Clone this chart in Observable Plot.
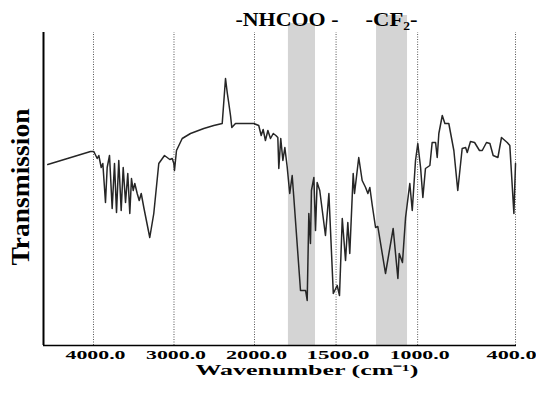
<!DOCTYPE html>
<html><head><meta charset="utf-8">
<script src="https://cdn.jsdelivr.net/npm/d3@7"></script>
<script src="https://cdn.jsdelivr.net/npm/@observablehq/plot@0.6"></script>
<style>body{margin:0;background:#fff}</style>
</head><body><div id="chart"></div>
<script>
const wavenumbers = [4568,4037,3996,3954,3934,3904,3884,3851,3830,3801,
  3768,3739,3714,3686,3656,3631,3602,3574,3549,3528,
  3507,3487,3457,3432,3407,3375,3301,3251,3189,3118,
  3052,3022,3002,2994,2969,2898,2795,2630,2506,2401,
  2360,2339,2319,2298,2282,2236,2009,1974,1959,1947,
  1933,1918,1902,1885,1869,1857,1851,1839,1826,1814,
  1800,1784,1769,1759,1718,1687,1677,1667,1657,1651,
  1636,1626,1616,1600,1565,1544,1517,1493,1479,1462,
  1442,1428,1416,1395,1387,1361,1340,1319,1305,1293,
  1278,1258,1244,1197,1150,1121,1113,1093,1074,1048,
  1033,1013,999,982,968,952,925,911,890,880,
  870,849,833,809,778,754,727,706,696,676,
  651,621,604,578,557,537,508,486,451,435,
  410,400];
const transmission = [181,194,194,187,190,178,182,143,178,190,
  137,182,133,185,135,178,143,172,132,167,
  155,162,152,145,152,138,108,132,182,190,
  186,187,182,175,195,207,212,217,220,222,
  267,253,242,230,218,222,222,220,210,216,
  205,215,207,212,210,208,177,207,185,198,
  179,152,170,148,55,55,45,132,102,155,
  168,115,163,155,110,152,52,60,50,127,
  85,123,92,172,152,188,165,158,152,158,
  140,118,119,72,117,67,92,83,128,162,
  135,185,202,178,148,177,180,203,203,188,
  212,230,222,222,195,155,197,198,193,204,
  203,195,195,203,202,190,188,208,203,200,
  132,182];
const xTicks = [4000,3000,2000,1500,1000,400];
const bandLabels = ["-NHCOO -", "-CF₂-"];
const bandFrom = [1792, 1252];
const bandTo = [1626, 1062];
const bandTop = [322, 330];
const labelWn = [1801, 1160];
const xDomain = [4621, 2000, 394];
const yDomain = [0, 313];
const yLabel = "Transmission";
const xLabel = "Wavenumber (cm⁻¹)";

const spectrum = wavenumbers.map((w, i) => ({w, t: transmission[i]}));
const bands = bandLabels.map((label, i) => ({label, x1: bandFrom[i], x2: bandTo[i], top: bandTop[i], xl: labelWn[i]}));
const fmt = d => d.toFixed(1);
const font = "Liberation Serif";
const txt = {fontFamily: font, fontWeight: "bold", fill: "#000"};

const plot = Plot.plot({
  width: 536, height: 394,
  marginLeft: 43, marginRight: 20, marginTop: 32, marginBottom: 49,
  style: {fontFamily: font, background: "#fff", color: "#000", overflow: "visible"},
  x: {type: "linear", domain: xDomain, range: [43, 254, 516]},
  y: {domain: yDomain, axis: null},
  marks: [
    Plot.rect(bands, {x1: "x1", x2: "x2", y1: 0, y2: "top", fill: "#d4d4d4"}),
    Plot.ruleX(xTicks, {y1: 0, y2: yDomain[1], stroke: "#555", strokeWidth: 1, strokeDasharray: "1,1.5"}),
    Plot.line(spectrum, {x: "w", y: "t", stroke: "#262626", strokeWidth: 1.5}),
    Plot.ruleX([xDomain[0]], {y1: 0, y2: yDomain[1], stroke: "#000", strokeWidth: 2}),
    Plot.ruleY([0], {x1: xDomain[0], x2: xDomain[2], stroke: "#000", strokeWidth: 1.6}),
    Plot.axisX(xTicks.slice(0, 5), {tickSize: 0, tickPadding: 4, tickFormat: fmt, fontSize: 13, ...txt, dx: 2, label: null}),
    Plot.axisX(xTicks.slice(5), {tickSize: 0, tickPadding: 4, tickFormat: fmt, fontSize: 13, ...txt, dx: -4, label: null}),
    Plot.text(bands, {x: "xl", y: 326, text: "label", fontSize: 19, ...txt, textAnchor: "middle", lineAnchor: "middle"}),
    Plot.text([yLabel], {frameAnchor: "left", textAnchor: "middle", lineAnchor: "middle", rotate: -90, dx: -23, dy: -2, fontSize: 25, ...txt}),
    Plot.text([xLabel], {frameAnchor: "bottom", textAnchor: "middle", lineAnchor: "middle", dx: 27, dy: 25, fontSize: 15, ...txt})
  ]
});

const textWidths = {"4000.0": 60, "3000.0": 60, "2000.0": 61, "1500.0": 63, "1000.0": 60, "400.0": 50,
  "-NHCOO -": 103, "-CF₂-": 52, "Transmission": 157, "Wavenumber (cm⁻¹)": 223};
d3.select(plot).selectAll("text").each(function () {
  const w = textWidths[this.textContent];
  if (w) { this.setAttribute("textLength", w); this.setAttribute("lengthAdjust", "spacingAndGlyphs"); }
});
document.getElementById("chart").appendChild(plot);
</script>
</body></html>
